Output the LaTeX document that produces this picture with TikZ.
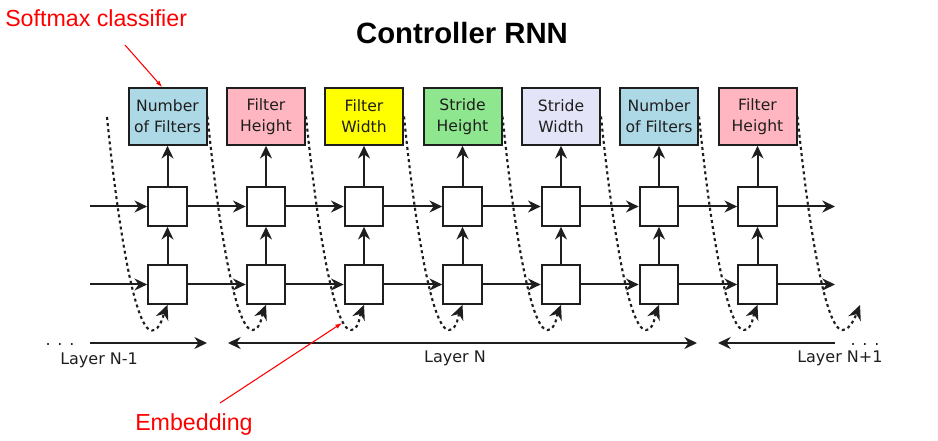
\documentclass[tikz,border=0pt]{standalone}
\usepackage{fontspec}
\setmainfont{DejaVu Sans}
\newfontfamily\arialfont{Liberation Sans}
\usetikzlibrary{arrows.meta,positioning}
\definecolor{nblue}{HTML}{ADD8E6}
\definecolor{npink}{HTML}{FFB6C1}
\definecolor{nyellow}{HTML}{FFFF00}
\definecolor{ngreen}{HTML}{8EE68E}
\definecolor{nlav}{HTML}{E4E4F8}
\definecolor{ink}{HTML}{1E1E1E}
\tikzstyle{outbox}=[draw=ink,line width=1.5pt,minimum width=58.5pt,minimum height=42.5pt,inner sep=1pt,align=center,text=ink,font=\fontsize{11.7}{15.5}\selectfont]
\tikzstyle{cell}=[draw=ink,fill=white,line width=1.5pt,minimum size=29pt,inner sep=0pt]
\tikzstyle{emb}=[ink,line width=1.6pt,dash pattern=on 2.2pt off 2.4pt,-{Stealth[length=11pt,width=10pt]}]
\tikzstyle{lbl}=[text=ink,font=\fontsize{12}{14}\selectfont,inner sep=0pt]
\tikzstyle{note}=[red,font=\arialfont\fontsize{17.4}{20}\selectfont,inner sep=0pt]
\tikzstyle{flow}=[color=ink,line width=1.5pt]

\begin{document}
\begin{tikzpicture}[x=0.75pt,y=-0.75pt,>={Stealth[length=9.5pt,width=9pt]}]
\useasboundingbox (0,0) rectangle (938,441);
\node[font=\arialfont\bfseries\fontsize{22}{26}\selectfont] (T) at (462,33) {Controller RNN};
% predictions
\node[outbox,fill=nblue] (O1) at (167.5,116.5) {Number\\of Filters};
\node[outbox,fill=npink] (O2) at (266,116.5) {Filter\\Height};
\node[outbox,fill=nyellow] (O3) at (364,116.5) {Filter\\Width};
\node[outbox,fill=ngreen] (O4) at (462.5,116.5) {Stride\\Height};
\node[outbox,fill=nlav] (O5) at (561,116.5) {Stride\\Width};
\node[outbox,fill=nblue] (O6) at (659,116.5) {Number\\of Filters};
\node[outbox,fill=npink] (O7) at (757.5,116.5) {Filter\\Height};
% upper cells
\node[cell] (U1) at (167.5,206.5) {};
\node[cell] (U2) at (266,206.5) {};
\node[cell] (U3) at (364,206.5) {};
\node[cell] (U4) at (462.5,206.5) {};
\node[cell] (U5) at (561,206.5) {};
\node[cell] (U6) at (659,206.5) {};
\node[cell] (U7) at (757.5,206.5) {};
% lower cells
\node[cell] (L1) at (167.5,284.5) {};
\node[cell] (L2) at (266,284.5) {};
\node[cell] (L3) at (364,284.5) {};
\node[cell] (L4) at (462.5,284.5) {};
\node[cell] (L5) at (561,284.5) {};
\node[cell] (L6) at (659,284.5) {};
\node[cell] (L7) at (757.5,284.5) {};
\coordinate (UI) at (90,206.5);
\coordinate (UO) at (835,206.5);
\coordinate (LI) at (90,284.5);
\coordinate (LO) at (835,284.5);
\path[->,flow]
(UI) edge (U1) (U1) edge (U2) (U2) edge (U3) (U3) edge (U4)
(U4) edge (U5) (U5) edge (U6) (U6) edge (U7) (U7) edge (UO)
(LI) edge (L1) (L1) edge (L2) (L2) edge (L3) (L3) edge (L4)
(L4) edge (L5) (L5) edge (L6) (L6) edge (L7) (L7) edge (LO)
(L1) edge (U1) (L2) edge (U2) (L3) edge (U3) (L4) edge (U4)
(L5) edge (U5) (L6) edge (U6) (L7) edge (U7)
(U1) edge (O1) (U2) edge (O2) (U3) edge (O3) (U4) edge (O4)
(U5) edge (O5) (U6) edge (O6) (U7) edge (O7);
% embeddings fed back
\coordinate (S0) at (107,117);
\coordinate (E8) at (860,305);
\draw[emb] (S0) .. controls +(10,100) and +(-18,0) .. ++(45,213.5) .. controls +(8,0) and +(-4,10) .. (L1.south);
\draw[emb] (O1.east) .. controls +(10,100) and +(-18,0) .. ++(45,213.5) .. controls +(8,0) and +(-4,10) .. (L2.south);
\draw[emb] (O2.east) .. controls +(10,100) and +(-18,0) .. ++(45,213.5) .. controls +(8,0) and +(-4,10) .. (L3.south);
\draw[emb] (O3.east) .. controls +(10,100) and +(-18,0) .. ++(45,213.5) .. controls +(8,0) and +(-4,10) .. (L4.south);
\draw[emb] (O4.east) .. controls +(10,100) and +(-18,0) .. ++(45,213.5) .. controls +(8,0) and +(-4,10) .. (L5.south);
\draw[emb] (O5.east) .. controls +(10,100) and +(-18,0) .. ++(45,213.5) .. controls +(8,0) and +(-4,10) .. (L6.south);
\draw[emb] (O6.east) .. controls +(10,100) and +(-18,0) .. ++(45,213.5) .. controls +(8,0) and +(-4,10) .. (L7.south);
\draw[emb] (O7.east) .. controls +(10,100) and +(-18,0) .. ++(45,213.5) .. controls +(8,0) and +(-4,10) .. (E8);
% layers
\coordinate (A1) at (90,343);
\coordinate (A2) at (207,343);
\coordinate (B1) at (228,343);
\coordinate (B2) at (697,343);
\coordinate (C1) at (718,343);
\coordinate (C2) at (835,343);
\path[->,flow]
(A1) edge (A2)
(C2) edge (C1);
\path[<->,flow] (B1) edge (B2);
\node[lbl,anchor=base] (D1) at (60,345) {. . .};
\node[lbl,anchor=base] (D2) at (865,345) {. . .};
\node[lbl,anchor=base west] (N1) at (60,364) {Layer N-1};
\node[lbl,anchor=base] (N2) at (455,363) {Layer N};
\node[lbl,anchor=base west] (N3) at (797,363) {Layer N+1};
% annotations
\node[note,anchor=base west] (SM) at (5,27) {Softmax classifier};
\node[note,anchor=base west] (EM) at (135,430) {Embedding};
\coordinate (SMa) at (125,45);
\coordinate (EMa) at (220,403);
\coordinate (EMb) at (342,323);
\path[color=red,line width=0.8pt,-{Latex[length=5pt,width=3.5pt]}]
(SMa) edge ([xshift=-4pt]O1.north)
(EMa) edge (EMb);
\end{tikzpicture}
\end{document}
